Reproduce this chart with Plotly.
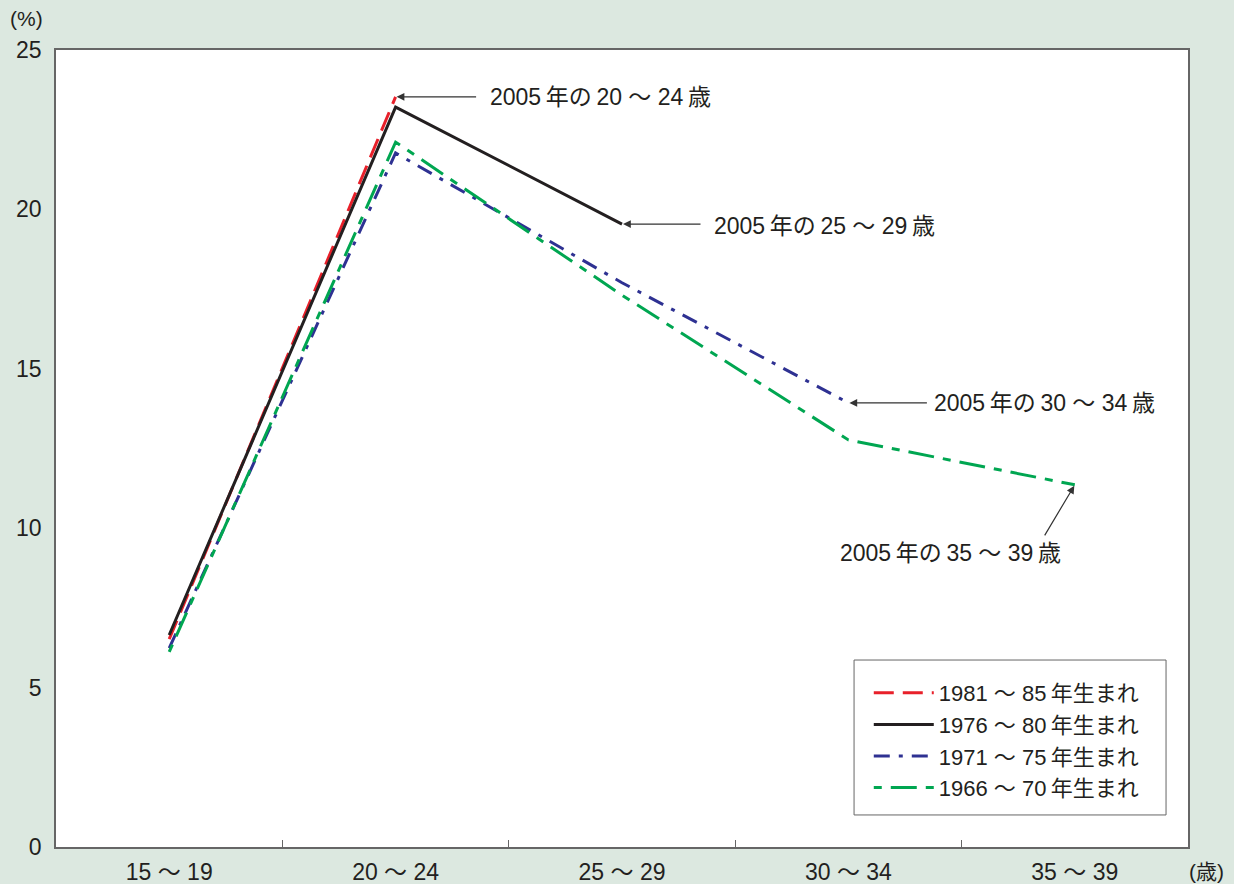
import plotly.graph_objects as go

# Age groups on the x axis
age_groups = ["15 ～ 19", "20 ～ 24", "25 ～ 29", "30 ～ 34", "35 ～ 39"]

# Share (%) by birth cohort; each cohort is observed up to its age in 2005
cohort_1981_85 = [6.52, 23.53, None, None, None]
cohort_1976_80 = [6.65, 23.21, 19.54, None, None]
cohort_1971_75 = [6.24, 21.77, 17.70, 13.93, None]
cohort_1966_70 = [6.12, 22.11, 17.31, 12.77, 11.36]

cohort_names = ["1981 ～ 85\u2009年生まれ", "1976 ～ 80\u2009年生まれ",
                "1971 ～ 75\u2009年生まれ", "1966 ～ 70\u2009年生まれ"]

y_ticks = [0, 5, 10, 15, 20, 25]

FONT = "Liberation Sans, Arial, Noto Sans CJK JP"
TXT = "#231f20"
BG = "#dce8e0"
AXIS = "#666666"

fig = go.Figure()

styles = [
    (cohort_1981_85, "#e8202a", "20px,9px"),
    (cohort_1976_80, "#231f20", "solid"),
    (cohort_1971_75, "#2e3192", "16px,9px,4px,9px"),
    (cohort_1966_70, "#00a651", "8px,9px,26px,9px"),
]
for (vals, color, dash), name in zip(styles, cohort_names):
    fig.add_trace(go.Scatter(
        x=age_groups, y=vals, name=name, mode="lines",
        line=dict(color=color, width=3, dash=dash),
        connectgaps=False,
    ))

# Arrows pointing at each cohort's 2005 value
arrow_targets = [
    (1, cohort_1981_85[1], 82, 0),
    (2, cohort_1976_80[2], 80, 0),
    (3, cohort_1971_75[3], 80, 0),
    (4, cohort_1966_70[4], -31, 52),
]
for xi, yv, ax, ay in arrow_targets:
    fig.add_annotation(
        x=age_groups[xi], y=yv, xref="x", yref="y", text="",
        showarrow=True, ax=ax, ay=ay, arrowhead=2, arrowsize=1.3,
        arrowwidth=1.2, arrowcolor="#333333", standoff=1,
    )

labels = [
    ("2005\u2009年の\u200920 ～ 24\u2009歳", 0.3816, 0.941, "left"),
    ("2005\u2009年の\u200925 ～ 29\u2009歳", 0.5795, 0.779, "left"),
    ("2005\u2009年の\u200930 ～ 34\u2009歳", 0.7739, 0.557, "left"),
    ("2005\u2009年の\u200935 ～ 39\u2009歳", 0.7898, 0.369, "center"),
]
for text, px, py, anchor in labels:
    fig.add_annotation(
        x=px, y=py, xref="paper", yref="paper", text=text, showarrow=False,
        xanchor=anchor, yanchor="middle", font=dict(family=FONT, size=23, color=TXT),
    )

# Axis unit labels
fig.add_annotation(x=-0.0265, y=1.0, xref="paper", yref="paper", text="(%)",
                   showarrow=False, xanchor="center", yanchor="middle", yshift=32,
                   borderpad=0, font=dict(family=FONT, size=21, color=TXT))
fig.add_annotation(x=1.016, y=0, xref="paper", yref="paper", text="(歳)",
                   showarrow=False, xanchor="center", yanchor="middle", yshift=-24,
                   borderpad=0, font=dict(family=FONT, size=21, color=TXT))

# Legend frame
fig.add_shape(type="rect", xref="paper", yref="paper",
              x0=0.705, x1=0.9806, y0=0.0402, y1=0.2346,
              line=dict(color=AXIS, width=1), fillcolor="white", layer="below")

fig.update_xaxes(
    type="category", range=[-0.5, 4.5], tickson="boundaries",
    ticks="inside", ticklen=7, tickcolor=AXIS, automargin=False,
    showline=True, linecolor=AXIS, linewidth=1.5, mirror=True,
    showgrid=False, zeroline=False, ticklabelstandoff=4,
    tickfont=dict(family=FONT, size=23, color=TXT),
)
fig.update_yaxes(
    range=[0, 25], tickvals=y_ticks, ticks="", showgrid=False, zeroline=False,
    showline=True, linecolor=AXIS, linewidth=1.5, mirror=True, automargin=False,
    ticklabelstandoff=8,
    tickfont=dict(family=FONT, size=23, color=TXT),
)

fig.update_layout(
    width=1234, height=884,
    margin=dict(l=56, r=46, t=50, b=37),
    paper_bgcolor=BG, plot_bgcolor="white",
    showlegend=True,
    legend=dict(
        x=0.718, y=0.2196, xanchor="left", yanchor="top",
        bgcolor="rgba(0,0,0,0)", borderwidth=0,
        font=dict(family=FONT, size=22, color=TXT),
        itemwidth=60, tracegroupgap=0,
    ),
)

fig.write_html("out.html")
